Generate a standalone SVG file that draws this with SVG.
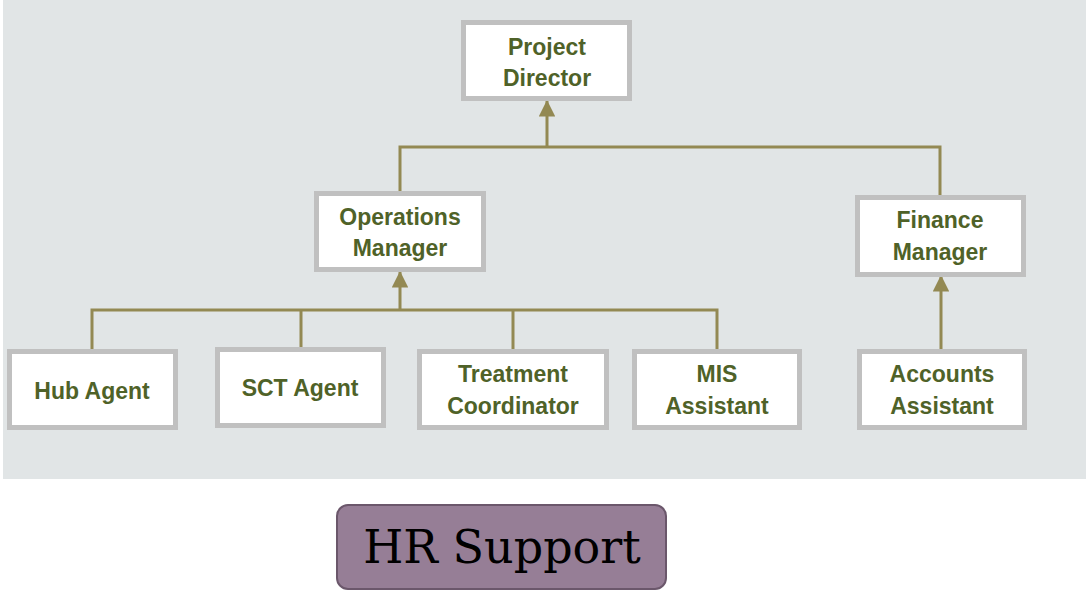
<svg xmlns="http://www.w3.org/2000/svg" width="1086" height="591" viewBox="0 0 1086 591">
<style>
.box{fill:#ffffff;stroke:#c0c0c0;stroke-width:5}
.lbl{font-family:"Liberation Sans",Arial,sans-serif;font-weight:bold;font-size:23px;fill:#4f6228;text-anchor:middle}
.con{fill:none;stroke:#938953;stroke-width:3}
</style>
<defs>
<marker id="arr" viewBox="0 0 10 10" refX="10" refY="5" markerWidth="5.5" markerHeight="5.5" markerUnits="strokeWidth" orient="auto">
<path d="M0,0 L10,5 L0,10 Z" fill="#938953"/>
</marker>
</defs>
<rect x="3" y="0" width="1083" height="479" fill="#e1e5e6"/>
<g id="connectors">
<path class="con" d="M400,192 V147 H940 V196"/>
<path class="con" d="M547,147 V100" marker-end="url(#arr)"/>
<path class="con" d="M92,349 V310 H717 V349"/>
<path class="con" d="M301,310 V347"/>
<path class="con" d="M513,310 V349"/>
<path class="con" d="M400,310 V271" marker-end="url(#arr)"/>
<path class="con" d="M941,350 V275" marker-end="url(#arr)"/>
</g>
<g id="project-director">
<rect class="box" x="463.5" y="22.5" width="166" height="76"/>
<text class="lbl" x="547" y="55">Project</text>
<text class="lbl" x="547" y="86">Director</text>
</g>
<g id="operations-manager">
<rect class="box" x="316.5" y="193.5" width="167" height="76"/>
<text class="lbl" x="400" y="225">Operations</text>
<text class="lbl" x="400" y="256">Manager</text>
</g>
<g id="finance-manager">
<rect class="box" x="857.5" y="197.5" width="166" height="77"/>
<text class="lbl" x="940" y="228">Finance</text>
<text class="lbl" x="940" y="260">Manager</text>
</g>
<g id="hub-agent">
<rect class="box" x="9.5" y="351.5" width="166" height="76"/>
<text class="lbl" x="92" y="399">Hub Agent</text>
</g>
<g id="sct-agent">
<rect class="box" x="217.5" y="349.5" width="166" height="76"/>
<text class="lbl" x="300" y="396">SCT Agent</text>
</g>
<g id="treatment-coordinator">
<rect class="box" x="419.5" y="351.5" width="187" height="76"/>
<text class="lbl" x="513" y="382">Treatment</text>
<text class="lbl" x="513" y="414">Coordinator</text>
</g>
<g id="mis-assistant">
<rect class="box" x="634.5" y="351.5" width="165" height="76"/>
<text class="lbl" x="717" y="382">MIS</text>
<text class="lbl" x="717" y="414">Assistant</text>
</g>
<g id="accounts-assistant">
<rect class="box" x="859.5" y="351.5" width="165" height="76"/>
<text class="lbl" x="942" y="382">Accounts</text>
<text class="lbl" x="942" y="414">Assistant</text>
</g>
<g id="hr-support">
<rect x="337" y="505" width="329" height="84" rx="11" ry="11" fill="#967e96" stroke="#6b576b" stroke-width="2"/>
<text x="502" y="563" font-family="'DejaVu Serif',serif" font-size="46" fill="#000000" text-anchor="middle">HR Support</text>
</g>
</svg>
